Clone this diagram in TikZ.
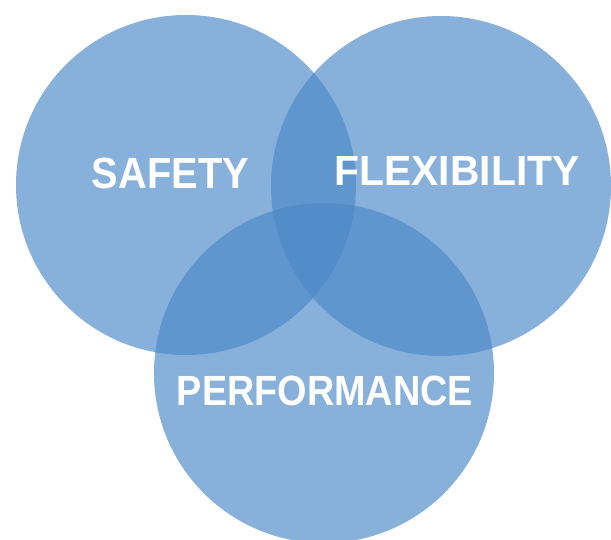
\documentclass[tikz,border=0pt]{standalone}
\usepackage{fontspec}
\setmainfont{Liberation Sans}
\definecolor{vennblue}{RGB}{76,137,200}
\begin{document}
\begin{tikzpicture}[x=1pt,y=-1pt,
  venn/.style={circle, fill=vennblue, fill opacity=0.67, draw=none, minimum size=340pt, inner sep=0pt},
  lbl/.style={text=white, font=\fontsize{40}{40}\selectfont\bfseries, anchor=base, inner sep=0pt}]
\useasboundingbox (0,0) rectangle (611,540);
\node[venn] (safety) at (186,185) {};
\node[venn] (flex) at (441,186) {};
\node[venn] (perf) at (324,373) {};
\node[lbl] (tsafety) at (170.5,188.5) {\resizebox{157pt}{30.5pt}{SAFETY}};
\node[lbl] (tflex) at (457,186) {\resizebox{245pt}{29pt}{FLEXIBILITY}};
\node[lbl] (tperf) at (325,405.5) {\resizebox{296pt}{29.5pt}{PERFORMANCE}};
\end{tikzpicture}
\end{document}
